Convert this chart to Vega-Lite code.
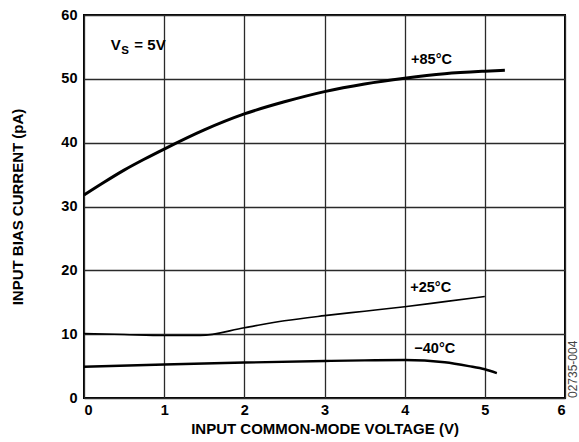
{
  "$schema": "https://vega.github.io/schema/vega-lite/v6.json",
  "width": 481,
  "height": 383,
  "autosize": {"type": "none"},
  "padding": {"left": 84, "top": 15, "right": 14, "bottom": 44},
  "background": "white",
  "config": {
    "font": "Liberation Sans",
    "view": {"stroke": "#000000", "strokeWidth": 2},
    "axis": {
      "labelFont": "Liberation Sans",
      "labelFontWeight": "bold",
      "labelFontSize": 14.5,
      "labelColor": "#000000",
      "titleFont": "Liberation Sans",
      "titleFontWeight": "bold",
      "titleFontSize": 15,
      "titleColor": "#000000",
      "gridColor": "#2a2a2a",
      "gridWidth": 1.3,
      "gridOpacity": 1,
      "ticks": false,
      "domain": false
    }
  },
  "datasets": {
    "curves": [
      {"v": 0, "i": 31.8, "t": "+85"}, {"v": 0.25, "i": 33.8, "t": "+85"}, {"v": 0.5, "i": 35.7, "t": "+85"}, {"v": 0.75, "i": 37.4, "t": "+85"}, {"v": 1, "i": 39.0, "t": "+85"}, {"v": 1.5, "i": 42.0, "t": "+85"}, {"v": 2, "i": 44.5, "t": "+85"}, {"v": 2.5, "i": 46.4, "t": "+85"}, {"v": 3, "i": 48.0, "t": "+85"}, {"v": 3.5, "i": 49.2, "t": "+85"}, {"v": 4, "i": 50.1, "t": "+85"}, {"v": 4.5, "i": 50.8, "t": "+85"}, {"v": 5, "i": 51.2, "t": "+85"}, {"v": 5.25, "i": 51.35, "t": "+85"},
      {"v": 0, "i": 10.1, "t": "+25"}, {"v": 0.5, "i": 9.95, "t": "+25"}, {"v": 1, "i": 9.8, "t": "+25"}, {"v": 1.45, "i": 9.8, "t": "+25"}, {"v": 2, "i": 11.0, "t": "+25"}, {"v": 2.5, "i": 12.1, "t": "+25"}, {"v": 3, "i": 12.9, "t": "+25"}, {"v": 3.5, "i": 13.6, "t": "+25"}, {"v": 4, "i": 14.3, "t": "+25"}, {"v": 4.5, "i": 15.1, "t": "+25"}, {"v": 5, "i": 15.9, "t": "+25"},
      {"v": 0, "i": 4.9, "t": "-40"}, {"v": 1, "i": 5.25, "t": "-40"}, {"v": 2, "i": 5.55, "t": "-40"}, {"v": 3, "i": 5.8, "t": "-40"}, {"v": 3.5, "i": 5.9, "t": "-40"}, {"v": 4, "i": 5.95, "t": "-40"}, {"v": 4.5, "i": 5.6, "t": "-40"}, {"v": 4.8, "i": 5.0, "t": "-40"}, {"v": 5, "i": 4.5, "t": "-40"}, {"v": 5.15, "i": 3.9, "t": "-40"}
    ],
    "labels": [
      {"v": 4.08, "i": 53.0, "label": "+85°C"},
      {"v": 4.07, "i": 17.2, "label": "+25°C"},
      {"v": 4.12, "i": 7.7, "label": "−40°C"}
    ]
  },
  "layer": [
    {
      "data": {"name": "curves"},
      "transform": [{"filter": "datum.t === '+85'"}],
      "mark": {"type": "line", "color": "#000000", "strokeWidth": 3, "interpolate": "monotone"},
      "encoding": {
        "x": {"field": "v", "type": "quantitative", "scale": {"domain": [0, 6], "nice": false}, "axis": {"title": "INPUT COMMON-MODE VOLTAGE (V)", "values": [0, 1, 2, 3, 4, 5, 6], "format": "d", "labelPadding": 5, "titlePadding": 5}},
        "y": {"field": "i", "type": "quantitative", "scale": {"domain": [0, 60], "nice": false}, "axis": {"title": "INPUT BIAS CURRENT (pA)", "values": [0, 10, 20, 30, 40, 50, 60], "labelPadding": 7, "titlePadding": 35}}
      }
    },
    {
      "data": {"name": "curves"},
      "transform": [{"filter": "datum.t === '+25'"}],
      "mark": {"type": "line", "color": "#000000", "strokeWidth": 1.6, "interpolate": "monotone"},
      "encoding": {
        "x": {"field": "v", "type": "quantitative"},
        "y": {"field": "i", "type": "quantitative"}
      }
    },
    {
      "data": {"name": "curves"},
      "transform": [{"filter": "datum.t === '-40'"}],
      "mark": {"type": "line", "color": "#000000", "strokeWidth": 2.4, "interpolate": "monotone"},
      "encoding": {
        "x": {"field": "v", "type": "quantitative"},
        "y": {"field": "i", "type": "quantitative"}
      }
    },
    {
      "data": {"name": "labels"},
      "mark": {"type": "text", "align": "left", "baseline": "middle", "font": "Liberation Sans", "fontWeight": "bold", "fontSize": 14.5, "color": "#000000"},
      "encoding": {
        "x": {"field": "v", "type": "quantitative"},
        "y": {"field": "i", "type": "quantitative"},
        "text": {"field": "label"}
      }
    },
    {
      "data": {"values": [{"v": 0.335, "i": 54.5, "label": "V"}]},
      "mark": {"type": "text", "align": "left", "baseline": "alphabetic", "font": "Liberation Sans", "fontWeight": "bold", "fontSize": 15, "color": "#000000"},
      "encoding": {
        "x": {"field": "v", "type": "quantitative"},
        "y": {"field": "i", "type": "quantitative"},
        "text": {"field": "label"}
      }
    },
    {
      "data": {"values": [{"v": 0.335, "i": 54.5, "label": "S"}]},
      "mark": {"type": "text", "align": "left", "baseline": "alphabetic", "font": "Liberation Sans", "fontWeight": "bold", "fontSize": 11.5, "color": "#000000", "dx": 10.5, "dy": 4},
      "encoding": {
        "x": {"field": "v", "type": "quantitative"},
        "y": {"field": "i", "type": "quantitative"},
        "text": {"field": "label"}
      }
    },
    {
      "data": {"values": [{"v": 0.335, "i": 54.5, "label": "= 5V"}]},
      "mark": {"type": "text", "align": "left", "baseline": "alphabetic", "font": "Liberation Sans", "fontWeight": "bold", "fontSize": 15, "color": "#000000", "dx": 23.5},
      "encoding": {
        "x": {"field": "v", "type": "quantitative"},
        "y": {"field": "i", "type": "quantitative"},
        "text": {"field": "label"}
      }
    },
    {
      "data": {"values": [{"v": 6.1, "i": 0, "label": "02735-004"}]},
      "mark": {"type": "text", "align": "left", "baseline": "middle", "angle": 270, "font": "Liberation Sans", "fontSize": 12, "color": "#444444"},
      "encoding": {
        "x": {"field": "v", "type": "quantitative"},
        "y": {"field": "i", "type": "quantitative"},
        "text": {"field": "label"}
      }
    }
  ]
}
